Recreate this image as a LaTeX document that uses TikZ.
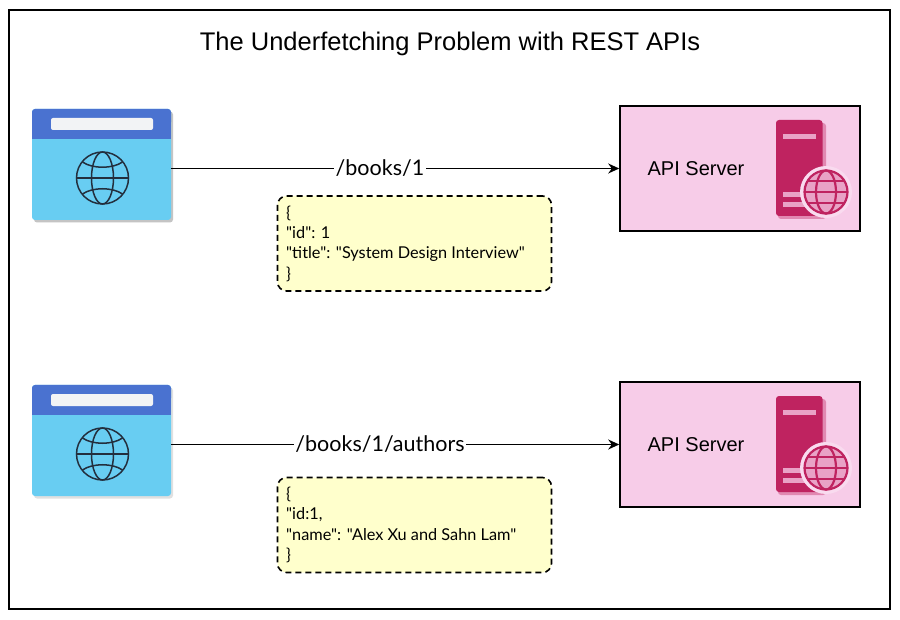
\documentclass[tikz,border=0pt]{standalone}
\usepackage{fontspec}
\setmainfont{Liberation Sans}
\newfontfamily\handfont{Lato}
\usetikzlibrary{arrows.meta}
\definecolor{bluehead}{HTML}{4A72D0}
\definecolor{bluebody}{HTML}{68CDF2}
\definecolor{barwhite}{HTML}{F2F3F5}
\definecolor{globedark}{HTML}{232F3E}
\definecolor{pinkbg}{HTML}{F7CCE8}
\definecolor{servermag}{HTML}{BF2360}
\definecolor{notefill}{HTML}{FFFFCC}
\tikzset{
  frame/.style={draw=black,line width=1.6pt,fill=white},
  browser/.style={rounded corners=3pt,fill=bluebody,minimum width=139pt,minimum height=111pt,inner sep=0pt},
  serverbox/.style={draw=black,line width=1.6pt,fill=pinkbg,minimum width=240pt,minimum height=125pt,inner sep=0pt},
  srvlabel/.style={font=\fontsize{20}{24}\selectfont,inner sep=0pt},
  routelabel/.style={font=\handfont\fontsize{21.5}{25}\selectfont,fill=white,inner sep=1.5pt},
  note/.style={draw=black,line width=1.6pt,dash pattern=on 6pt off 4pt,rounded corners=9pt,fill=notefill,minimum width=274pt,minimum height=95pt,inner sep=0pt},
  notetext/.style={font=\handfont\fontsize{16.3}{20.3}\selectfont,align=left,inner sep=0pt,anchor=west},
  link/.style={draw=black,line width=1.6pt,-{Stealth[length=11pt,width=10pt]}},
  shade/.style={fill=black,fill opacity=0.12},
}
% #1 name suffix, #2 vertical offset, #3 route, #4 note text
\newcommand{\diagramrow}[4]{
  \fill[shade,rounded corners=3pt] (34,{111.5+#2}) rectangle (173,{222.5+#2});
  \node[browser] (browser#1) at (101.5,{164.5+#2}) {};
  \fill[bluehead,rounded corners=3pt] (32,{109+#2}) rectangle (171,{125+#2});
  \fill[bluehead] (32,{118+#2}) rectangle (171,{139+#2});
  \fill[barwhite,rounded corners=2pt] (51,{118+#2}) rectangle (153,{130+#2});
  \begin{scope}[shift={(102.5,{178+#2})},draw=globedark,line width=1.5pt]
    \draw (0,0) circle[radius=26];
    \draw (0,0) ellipse[x radius=11,y radius=26];
    \draw (-26,0) -- (26,0);
    \draw (-20,-16) .. controls (-10,-9) and (10,-9) .. (20,-16);
    \draw (-20,16) .. controls (-10,9) and (10,9) .. (20,16);
  \end{scope}
  \node[serverbox] (server#1) at (740,{168.5+#2}) {};
  \node[srvlabel] (srvtext#1) at (696,{169+#2}) {API Server};
  \fill[servermag!40!pinkbg,rounded corners=3pt] (778,{123+#2}) rectangle (826,{219+#2});
  \fill[servermag,rounded corners=3pt] (776,{120+#2}) -- (822.5,{120+#2}) -- (822.5,{216+#2}) -- (776,{216+#2}) -- cycle;
  \fill[pinkbg!75!servermag] (783,{134+#2}) rectangle (816,{139+#2});
  \fill[pinkbg!75!servermag] (783,{192+#2}) rectangle (815,{197+#2});
  \fill[pinkbg!75!servermag] (783,{202+#2}) rectangle (815,{207+#2});
  \fill[pinkbg!70!white] (826,{192+#2}) circle[radius=26];
  \begin{scope}[shift={(826,{192+#2})},draw=servermag,line width=2.2pt]
    \fill[pinkbg!75!servermag] (0,0) circle[radius=22];
    \draw (0,0) circle[radius=21.5];
    \draw (0,0) ellipse[x radius=10,y radius=21.5];
    \draw (-21.5,0) -- (21.5,0);
    \draw (-18,-11) -- (18,-11);
    \draw (-18,11) -- (18,11);
  \end{scope}
  \draw[link] (browser#1.east |- server#1.west) -- (server#1.west)
    node[routelabel,pos=0.5] (route#1) at (#3) {};
}
\begin{document}
\begin{tikzpicture}[x=1pt,y=-1pt]
  \useasboundingbox (0,0) rectangle (900,620);
  \fill[white] (0,0) rectangle (900,620);
  \node[frame,minimum width=881pt,minimum height=599pt,inner sep=0pt] (outer) at (449.5,309.5) {};
  \node[font=\fontsize{25.5}{30}\selectfont,inner sep=0pt] (title) at (450,44) {The Underfetching Problem with REST APIs};

  % top row
  \fill[shade,rounded corners=3pt] (34,111.5) rectangle (173,222.5);
  \diagramrow{A}{0}{380,168}{}
  \node[routelabel] (routeA) at (380,168.5) {/books/1};
  \node[note] (noteA) at (414.5,243.5) {};
  \node[notetext] (noteAtext) at (286,243.5) {\{\\"id": 1\\"title": "System Design Interview"\\\}};

  % bottom row
  \diagramrow{B}{276}{380,444}{}
  \node[routelabel] (routeB) at (380,444.5) {/books/1/authors};
  \node[note] (noteB) at (414.5,525) {};
  \node[notetext] (noteBtext) at (286,525) {\{\\"id:1,\\"name": "Alex Xu and Sahn Lam"\\\}};
\end{tikzpicture}
\end{document}
